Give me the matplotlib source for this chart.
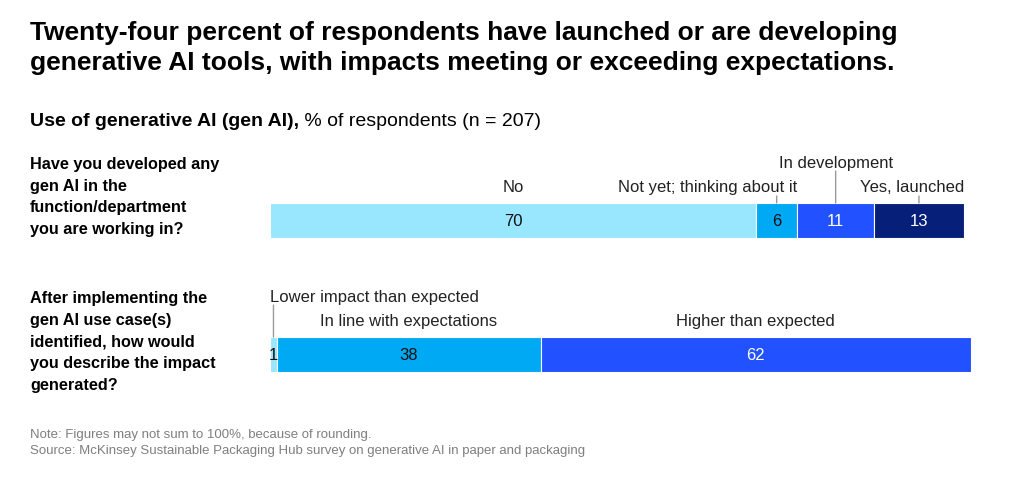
import matplotlib.pyplot as plt

# Data
questions = [
    "Have you developed any\ngen AI in the\nfunction/department\nyou are working in?",
    "After implementing the\ngen AI use case(s)\nidentified, how would\nyou describe the impact\ngenerated?",
]
q1_labels = ["No", "Not yet; thinking about it", "In development", "Yes, launched"]
q1_values = [70, 6, 11, 13]
q2_labels = ["Lower impact than expected", "In line with expectations", "Higher than expected"]
q2_values = [1, 38, 62]

q1_colors = ['#99e6ff', '#00a9f4', '#2251ff', '#061f79']
q2_colors = ['#99e6ff', '#00a9f4', '#2251ff']
q1_text = ['#111111', '#111111', 'white', 'white']
q2_text = ['#111111', '#111111', 'white']

plt.rcParams['font.family'] = ['Liberation Sans', 'DejaVu Sans']

fig = plt.figure(figsize=(10.24, 4.81), dpi=100)
W, H = 1024, 481
ax = fig.add_axes([270 / W, (H - 390) / H, 701 / W, 250 / H])
ax.set_xlim(0, 101)
ax.set_ylim(1.257, -0.608)
ax.axis('off')

bar_h = 0.261
leader = '#9a9a9a'
lab_fs = 12


def draw_row(y, values, colors, tcolors):
    left = 0
    centers = []
    for v, c, tc in zip(values, colors, tcolors):
        ax.barh(y, v, left=left, height=bar_h, color=c, edgecolor='white', linewidth=0.8)
        cx = left + v / 2
        centers.append((left, cx, left + v))
        ax.text(cx, y, str(v), ha='center', va='center', fontsize=lab_fs, color=tc)
        left += v
    return centers


def label(x, y, text, dy, ha):
    ax.annotate(text, xy=(x, y), xytext=(0, dy), textcoords='offset pixels',
                ha=ha, va='center', fontsize=lab_fs, color='#222222')


def line(x, y, dy):
    ax.annotate('', xy=(x, y), xytext=(0, dy), textcoords='offset pixels',
                arrowprops=dict(arrowstyle='-', color=leader, lw=1, shrinkA=0, shrinkB=0))


# Row 1
s1 = draw_row(0, q1_values, q1_colors, q1_text)
top0 = 0 - bar_h / 2
label(s1[0][1], top0, q1_labels[0], 17, 'center')
label(s1[1][2], top0, q1_labels[1], 17, 'right')
line(s1[1][1], top0, 7)
label(s1[2][1], top0, q1_labels[2], 41, 'center')
line(s1[2][1], top0, 32)
label(s1[3][2], top0, q1_labels[3], 17, 'right')
line(s1[3][1], top0, 7)

# Row 2
s2 = draw_row(1, q2_values, q2_colors, q2_text)
top1 = 1 - bar_h / 2
label(s2[0][0], top1, q2_labels[0], 41, 'left')
line(s2[0][1], top1, 32)
label(s2[1][1], top1, q2_labels[1], 17, 'center')
label(s2[2][1], top1, q2_labels[2], 17, 'center')

# Titles and side labels
fig.text(30 / W, 1 - 21 / H,
         "Twenty-four percent of respondents have launched or are developing\n"
         "generative AI tools, with impacts meeting or exceeding expectations.",
         ha='left', va='top', fontsize=19, fontweight='bold', color='#000000',
         linespacing=1.32)
t1 = fig.text(30 / W, 1 - 122 / H, "Use of generative AI (gen AI),", ha='left', va='center',
              fontsize=14, fontweight='bold', color='#000000')
ax.annotate(" % of respondents (n = 207)", xy=(1, 0.5), xycoords=t1, ha='left', va='center',
            fontsize=14, color='#000000')

fig.text(30 / W, 1 - 157 / H, questions[0], ha='left', va='top', fontsize=11.7,
         fontweight='bold', color='#000000', linespacing=1.56)
fig.text(30 / W, 1 - 291 / H, questions[1], ha='left', va='top', fontsize=11.7,
         fontweight='bold', color='#000000', linespacing=1.56)

fig.text(30 / W, 1 - 435 / H, "Note: Figures may not sum to 100%, because of rounding.",
         ha='left', va='center', fontsize=9.5, color='#7f7f7f')
fig.text(30 / W, 1 - 451 / H,
         "Source: McKinsey Sustainable Packaging Hub survey on generative AI in paper and packaging",
         ha='left', va='center', fontsize=9.5, color='#7f7f7f')

fig.savefig('out.png', dpi=100)
